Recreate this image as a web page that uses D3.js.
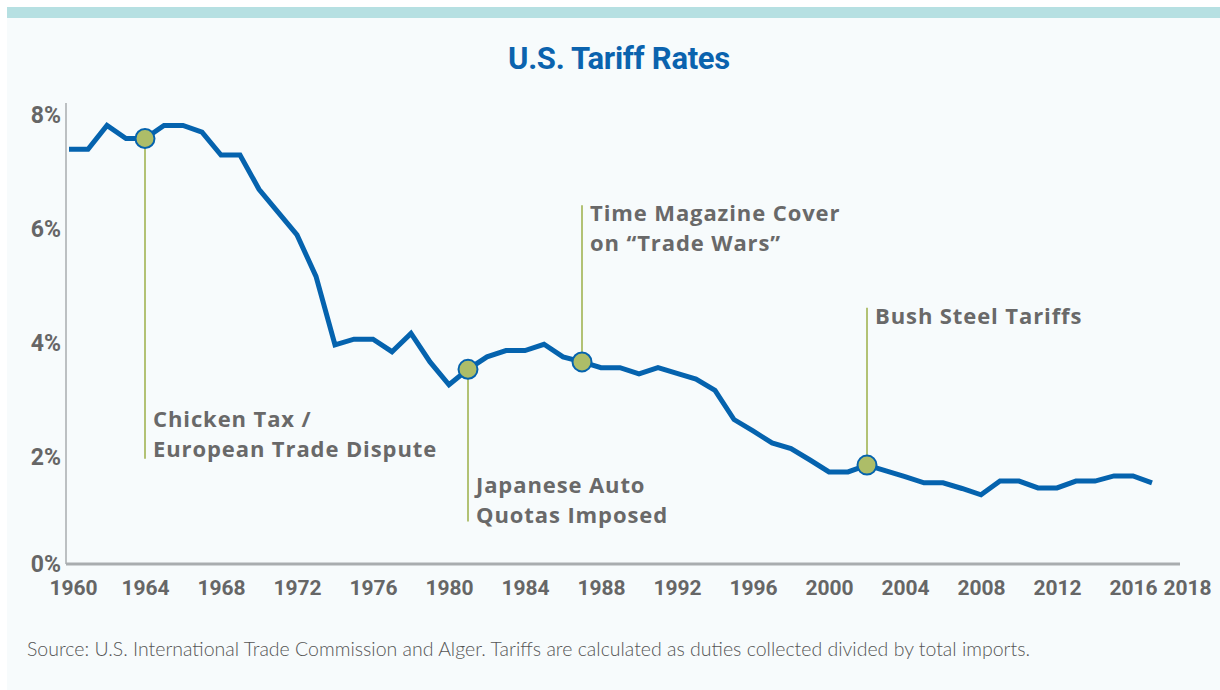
<!DOCTYPE html>
<html>
<head>
<meta charset="utf-8">
<script src="https://cdn.jsdelivr.net/npm/d3@7"></script>
<style>
  body { margin: 0; background: #fff; }
  svg { display: block; font-family: Roboto, "Liberation Sans", sans-serif; }
</style>
</head>
<body>
<svg></svg>
<script>
const width = 1220;
const height = 690;

/* chart data */
const years = d3.range(1960, 2018);
const tariffRates = [
  7.38, 7.38, 7.80, 7.57, 7.57, 7.80, 7.80, 7.68, 7.28, 7.28,
  6.68, 6.28, 5.88, 5.15, 3.95, 4.05, 4.05, 3.83, 4.15, 3.65,
  3.25, 3.52, 3.74, 3.85, 3.85, 3.96, 3.74, 3.65, 3.55, 3.55,
  3.44, 3.55, 3.45, 3.35, 3.15, 2.64, 2.44, 2.23, 2.13, 1.93,
  1.72, 1.72, 1.84, 1.74, 1.64, 1.53, 1.53, 1.43, 1.32, 1.56,
  1.56, 1.44, 1.44, 1.56, 1.56, 1.65, 1.65, 1.53
];
const yTicks = [0, 2, 4, 6, 8];
const xTicks = [1960, 1964, 1968, 1972, 1976, 1980, 1984, 1988, 1992, 1996, 2000, 2004, 2008, 2012, 2016, 2018];
const eventYears = [1964, 1981, 1987, 2002];
const eventLabels = [
  ['Chicken Tax /', 'European Trade Dispute'],
  ['Japanese Auto', 'Quotas Imposed'],
  ['Time Magazine Cover', 'on \u201CTrade Wars\u201D'],
  ['Bush Steel Tariffs']
];

const title = 'U.S. Tariff Rates';
const source = 'Source: U.S. International Trade Commission and Alger. Tariffs are calculated as duties collected divided by total imports.';

const data = years.map((year, i) => ({ year: year, rate: tariffRates[i] }));

/* annotation layout: stem end (in % units) and first text baseline */
const eventLayout = [
  { stemTo: 1.95, textY: 427 },
  { stemTo: 0.85, textY: 493 },
  { stemTo: 6.4, textY: 221 },
  { stemTo: 4.6, textY: 324 }
];

const svg = d3.select('svg')
  .attr('width', width)
  .attr('height', height);

/* background and top band */
svg.append('rect')
  .attr('x', 7).attr('y', 7)
  .attr('width', width - 7).attr('height', height - 7)
  .attr('fill', '#f7fbfc');

svg.append('rect')
  .attr('x', 7).attr('y', 7)
  .attr('width', width - 7).attr('height', 11)
  .attr('fill', '#b6e0e2');

/* scales */
const xScale = d3.scaleLinear()
  .domain([1960, 2018])
  .range([69, 1171]);

const yScale = d3.scaleLinear()
  .domain([0, 8])
  .range([570, 114]);

const axisY = 564;

/* title */
svg.append('text')
  .attr('x', 619)
  .attr('y', 69)
  .attr('text-anchor', 'middle')
  .style('font-size', '31px')
  .style('font-weight', 700)
  .style('letter-spacing', '-0.3px')
  .style('fill', '#0b63ae')
  .text(title);

/* y axis */
const yAxis = d3.axisLeft(yScale)
  .tickValues(yTicks)
  .tickSize(0)
  .tickPadding(5)
  .tickFormat(d => d + '%');

const yG = svg.append('g')
  .attr('transform', 'translate(66,0)')
  .call(yAxis);

yG.select('.domain').remove();
yG.append('line')
  .attr('x1', 0).attr('x2', 0)
  .attr('y1', 103).attr('y2', axisY)
  .attr('stroke', '#a9adaf')
  .attr('stroke-width', 1.5);

yG.selectAll('.tick text')
  .attr('dy', d => d === 0 ? '-0.05em' : '0.35em')
  .attr('transform', d => d === 0 ? `translate(0,${axisY - yScale(0) + 9})` : null)
  .style('font-family', 'Roboto, sans-serif')
  .style('font-size', '23px')
  .style('font-weight', 700)
  .style('fill', '#666');

/* x axis */
const xAxis = d3.axisBottom(xScale)
  .tickValues(xTicks)
  .tickSize(0)
  .tickPadding(16)
  .tickFormat(d => d);

const xG = svg.append('g')
  .attr('transform', `translate(0,${axisY})`)
  .call(xAxis);

xG.select('.domain').remove();
xG.append('line')
  .attr('x1', 66).attr('x2', 1180)
  .attr('y1', 0).attr('y2', 0)
  .attr('stroke', '#a9adaf')
  .attr('stroke-width', 3);

xG.selectAll('.tick text')
  .attr('dx', d => d === 2018 ? 16 : d === 1960 ? 4 : 0)
  .style('font-family', 'Roboto, sans-serif')
  .style('font-size', '21px')
  .style('font-weight', 700)
  .style('fill', '#666');

/* annotation stems */
const events = eventYears.map((year, i) => ({
  year: year,
  rate: tariffRates[years.indexOf(year)],
  lines: eventLabels[i],
  layout: eventLayout[i]
}));

svg.selectAll('line.stem')
  .data(events)
  .enter()
  .append('line')
    .classed('stem', true)
    .attr('x1', d => xScale(d.year))
    .attr('x2', d => xScale(d.year))
    .attr('y1', d => yScale(d.rate))
    .attr('y2', d => yScale(d.layout.stemTo))
    .attr('stroke', '#b2c274')
    .attr('stroke-width', 2);

/* tariff line */
const line = d3.line()
  .x(d => xScale(d.year))
  .y(d => yScale(d.rate));

svg.append('path')
  .datum(data)
  .attr('d', line)
  .attr('fill', 'none')
  .attr('stroke', '#0563ae')
  .attr('stroke-width', 5)
  .attr('stroke-linejoin', 'miter')
  .attr('stroke-linecap', 'butt');

/* event markers */
svg.selectAll('circle.event')
  .data(events)
  .enter()
  .append('circle')
    .classed('event', true)
    .attr('cx', d => xScale(d.year))
    .attr('cy', d => yScale(d.rate))
    .attr('r', 9.5)
    .attr('fill', '#adbd68')
    .attr('stroke', '#0563ae')
    .attr('stroke-width', 2);

/* annotation labels */
const labels = svg.selectAll('text.event-label')
  .data(events)
  .enter()
  .append('text')
    .classed('event-label', true)
    .attr('x', d => xScale(d.year) + 8)
    .attr('y', d => d.layout.textY)
    .style('font-family', '"Open Sans", sans-serif')
    .style('font-size', '22px')
    .style('font-weight', 700)
    .style('letter-spacing', '0.9px')
    .style('fill', '#696969');

labels.selectAll('tspan')
  .data(d => d.lines.map((t, i) => ({ t: t, i: i, x: xScale(d.year) + 8 })))
  .enter()
  .append('tspan')
    .attr('x', d => d.x)
    .attr('dy', d => d.i === 0 ? 0 : 30)
    .text(d => d.t);

/* source note */
svg.append('text')
  .attr('x', 27)
  .attr('y', 656)
  .attr('textLength', 1003)
  .attr('lengthAdjust', 'spacingAndGlyphs')
  .style('font-family', 'Lato, sans-serif')
  .style('font-size', '19px')
  .style('font-weight', 300)
  .style('fill', '#555')
  .text(source);
</script>
</body>
</html>
